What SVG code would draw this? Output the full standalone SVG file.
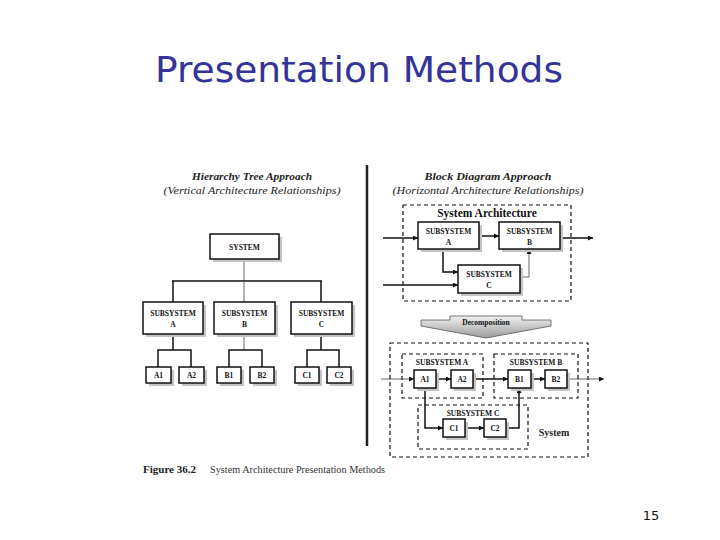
<svg xmlns="http://www.w3.org/2000/svg" width="720" height="540" viewBox="0 0 720 540">
<style>
.bx{fill:#fff;stroke:#111;stroke-width:1.5}
.sh{fill:#c4c4c4}
.t{font-family:"Liberation Serif",serif;font-weight:bold;font-size:7.5px;fill:#111;text-anchor:middle}
.ln{fill:none;stroke:#111;stroke-width:1.5}
.lg{fill:none;stroke:#666;stroke-width:1}
.ds{fill:none;stroke:#111;stroke-width:1.2;stroke-dasharray:4,3}
.hd{font-family:"Liberation Serif",serif;font-style:italic;font-size:11px;fill:#222;text-anchor:middle}
</style>
<defs>
<marker id="ar" viewBox="0 0 6 6" refX="6" refY="3" markerWidth="5" markerHeight="5" orient="auto" markerUnits="userSpaceOnUse">
<path d="M0,0 L6,3 L0,6 z" fill="#111"/>
</marker>
<linearGradient id="dg" x1="0" y1="0" x2="0" y2="1">
<stop offset="0" stop-color="#f2f2f2"/>
<stop offset="1" stop-color="#9a9a9a"/>
</linearGradient>
</defs>
<rect width="720" height="540" fill="#fff"/>
<text x="359" y="82" font-family="'DejaVu Sans',sans-serif" font-size="36" fill="#333399" text-anchor="middle" textLength="408" lengthAdjust="spacingAndGlyphs">Presentation Methods</text>

<g id="headings">
<text class="hd" x="252" y="180" font-weight="bold" textLength="120" lengthAdjust="spacingAndGlyphs">Hierarchy Tree Approach</text>
<text class="hd" x="252" y="194" textLength="177" lengthAdjust="spacingAndGlyphs">(Vertical Architecture Relationships)</text>
<text class="hd" x="488" y="180" font-weight="bold" textLength="127" lengthAdjust="spacingAndGlyphs">Block Diagram Approach</text>
<text class="hd" x="488" y="194" textLength="191" lengthAdjust="spacingAndGlyphs">(Horizontal Architecture Relationships)</text>
</g>
<line x1="367" y1="165" x2="367" y2="446" stroke="#222" stroke-width="2.5"/>

<g id="connectors">
<!-- left tree -->
<line class="lg" x1="244" y1="259" x2="244" y2="281"/>
<line class="ln" x1="172" y1="281" x2="322" y2="281"/>
<line class="ln" x1="173" y1="281" x2="173" y2="302" stroke-width="2"/>
<line class="lg" x1="244" y1="281" x2="244" y2="302"/>
<line class="ln" x1="321" y1="281" x2="321" y2="302"/>
<line class="ln" x1="173" y1="334" x2="173" y2="350" stroke-width="2"/>
<polyline class="ln" points="158,367 158,350 191,350 191,367"/>
<line class="lg" x1="244" y1="334" x2="244" y2="350"/>
<polyline class="ln" points="229,367 229,350 262,350 262,367"/>
<line class="ln" x1="321" y1="334" x2="321" y2="350"/>
<polyline class="ln" points="307,367 307,350 339,350 339,367"/>
<!-- block top -->
<line class="ln" x1="383" y1="238" x2="418" y2="238" marker-end="url(#ar)"/>
<line class="ln" x1="479" y1="236" x2="499" y2="236" marker-end="url(#ar)"/>
<line class="ln" x1="560" y1="238" x2="593" y2="238" marker-end="url(#ar)"/>
<polyline class="ln" points="443,249 443,272 458,272" stroke-width="2" marker-end="url(#ar)"/>
<line class="ln" x1="383" y1="285" x2="458" y2="285" stroke-width="1" marker-end="url(#ar)"/>
<polyline class="lg" points="520,277 529,277 529,249" marker-end="url(#ar)"/>
<!-- block bottom -->
<line class="lg" x1="381" y1="379" x2="414" y2="379" marker-end="url(#ar)"/>
<line class="ln" x1="436" y1="379" x2="451" y2="379" stroke-width="1" marker-end="url(#ar)"/>
<line class="ln" x1="473" y1="379" x2="508" y2="379" stroke-width="1" marker-end="url(#ar)"/>
<line class="ln" x1="531" y1="379" x2="545" y2="379" stroke-width="1" marker-end="url(#ar)"/>
<line class="lg" x1="567" y1="379" x2="604" y2="379" marker-end="url(#ar)"/>
<polyline class="ln" points="425,388 425,428 443,428" stroke-width="1" marker-end="url(#ar)"/>
<line class="ln" x1="465" y1="428" x2="484" y2="428" stroke-width="1" marker-end="url(#ar)"/>
<polyline class="ln" points="506,428 519,428 519,388" stroke-width="1" marker-end="url(#ar)"/>
</g>

<g id="system">
<rect class="sh" x="213" y="237" width="69" height="25"/>
<rect class="bx" x="210" y="234" width="69" height="25"/>
<text class="t" x="244.5" y="250">SYSTEM</text>
</g>
<g id="subA">
<rect class="sh" x="146" y="305" width="60" height="32"/>
<rect class="bx" x="143" y="302" width="60" height="32"/>
<text class="t" x="173" y="316">SUBSYSTEM</text><text class="t" x="173" y="327">A</text>
</g>
<g id="subB">
<rect class="sh" x="217" y="305" width="61" height="32"/>
<rect class="bx" x="214" y="302" width="61" height="32"/>
<text class="t" x="244.5" y="316">SUBSYSTEM</text><text class="t" x="244.5" y="327">B</text>
</g>
<g id="subC">
<rect class="sh" x="294" y="305" width="61" height="32"/>
<rect class="bx" x="291" y="302" width="61" height="32"/>
<text class="t" x="321.5" y="316">SUBSYSTEM</text><text class="t" x="321.5" y="327">C</text>
</g>
<g id="leafA1"><rect class="sh" x="149" y="370" width="25" height="16"/><rect class="bx" x="146" y="367" width="25" height="16"/><text class="t" x="158.5" y="378">A1</text></g>
<g id="leafA2"><rect class="sh" x="182" y="370" width="25" height="16"/><rect class="bx" x="179" y="367" width="25" height="16"/><text class="t" x="191.5" y="378">A2</text></g>
<g id="leafB1"><rect class="sh" x="220" y="370" width="24" height="16"/><rect class="bx" x="217" y="367" width="24" height="16"/><text class="t" x="229" y="378">B1</text></g>
<g id="leafB2"><rect class="sh" x="253" y="370" width="24" height="16"/><rect class="bx" x="250" y="367" width="24" height="16"/><text class="t" x="262" y="378">B2</text></g>
<g id="leafC1"><rect class="sh" x="298" y="370" width="24" height="16"/><rect class="bx" x="295" y="367" width="24" height="16"/><text class="t" x="307" y="378">C1</text></g>
<g id="leafC2"><rect class="sh" x="330" y="370" width="24" height="16"/><rect class="bx" x="327" y="367" width="24" height="16"/><text class="t" x="339" y="378">C2</text></g>

<g id="sysArch">
<rect class="ds" x="403" y="205" width="168" height="96"/>
<text x="487" y="217" font-family="'Liberation Serif',serif" font-weight="bold" font-size="11.5" fill="#111" text-anchor="middle">System Architecture</text>
</g>
<g id="bSubA">
<rect class="sh" x="421" y="225" width="61" height="27"/>
<rect class="bx" x="418" y="222" width="61" height="27"/>
<text class="t" x="448.5" y="234">SUBSYSTEM</text><text class="t" x="448.5" y="245">A</text>
</g>
<g id="bSubB">
<rect class="sh" x="502" y="225" width="61" height="27"/>
<rect class="bx" x="499" y="222" width="61" height="27"/>
<text class="t" x="529.5" y="234">SUBSYSTEM</text><text class="t" x="529.5" y="245">B</text>
</g>
<g id="bSubC">
<rect class="sh" x="461" y="268" width="62" height="28"/>
<rect class="bx" x="458" y="265" width="62" height="28"/>
<text class="t" x="489" y="277">SUBSYSTEM</text><text class="t" x="489" y="288">C</text>
</g>

<g id="decomposition">
<path d="M421,320 L450,320 L450,316 L522,316 L522,320 L551,320 L551,326 L486,338 L421,326 Z" fill="url(#dg)" stroke="#555" stroke-width="0.8"/>
<text x="486" y="325" font-family="'Liberation Serif',serif" font-weight="bold" font-size="7.5" fill="#111" text-anchor="middle">Decomposition</text>
</g>

<g id="systemBox">
<rect class="ds" x="390" y="343" width="198" height="114"/>
<text x="554" y="436" font-family="'Liberation Serif',serif" font-weight="bold" font-size="10" fill="#222" text-anchor="middle">System</text>
</g>
<g id="dSubA">
<rect class="ds" x="402" y="354" width="81" height="44"/>
<text class="t" x="442" y="365">SUBSYSTEM A</text>
</g>
<g id="dSubB">
<rect class="ds" x="494" y="354" width="84" height="44"/>
<text class="t" x="536" y="365">SUBSYSTEM B</text>
</g>
<g id="dSubC">
<rect class="ds" x="418" y="405" width="110" height="44"/>
<text class="t" x="473" y="416">SUBSYSTEM C</text>
</g>
<g id="bA1"><rect class="sh" x="417" y="373" width="22" height="18"/><rect class="bx" x="414" y="370" width="22" height="18"/><text class="t" x="425" y="382">A1</text></g>
<g id="bA2"><rect class="sh" x="454" y="373" width="22" height="18"/><rect class="bx" x="451" y="370" width="22" height="18"/><text class="t" x="462" y="382">A2</text></g>
<g id="bB1"><rect class="sh" x="511" y="373" width="23" height="18"/><rect class="bx" x="508" y="370" width="23" height="18"/><text class="t" x="519.5" y="382">B1</text></g>
<g id="bB2"><rect class="sh" x="548" y="373" width="22" height="18"/><rect class="bx" x="545" y="370" width="22" height="18"/><text class="t" x="556" y="382">B2</text></g>
<g id="bC1"><rect class="sh" x="446" y="422" width="22" height="18"/><rect class="bx" x="443" y="419" width="22" height="18"/><text class="t" x="454" y="431">C1</text></g>
<g id="bC2"><rect class="sh" x="487" y="422" width="22" height="18"/><rect class="bx" x="484" y="419" width="22" height="18"/><text class="t" x="495" y="431">C2</text></g>

<g id="caption">
<text x="143" y="473" font-family="'Liberation Serif',serif" font-size="10" font-weight="bold" fill="#222" textLength="53" lengthAdjust="spacingAndGlyphs">Figure 36.2</text>
<text x="210" y="473" font-family="'Liberation Serif',serif" font-size="10" fill="#333" textLength="175" lengthAdjust="spacingAndGlyphs">System Architecture Presentation Methods</text>
</g>
<text x="651" y="520" font-family="'DejaVu Sans',sans-serif" font-size="13" fill="#111" text-anchor="middle">15</text>
</svg>
